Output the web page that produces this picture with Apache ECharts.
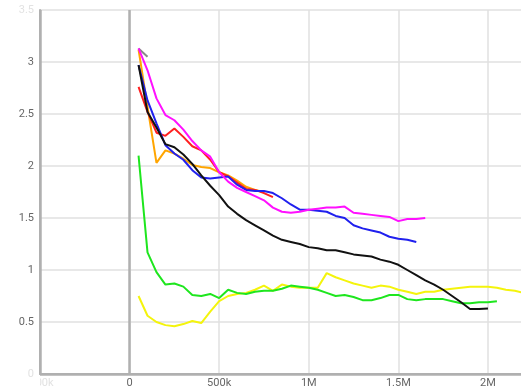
<!DOCTYPE html>
<html><head><meta charset="utf-8">
<script src="https://cdn.jsdelivr.net/npm/echarts@6/dist/echarts.min.js"></script>
<style>html,body{margin:0;padding:0;background:#fff}#c{width:521px;height:389px}</style>
</head><body><div id="c"></div>
<script>
// x positions are in steps of 50k, starting at 50k
const xStep = 50000;
const black = [2.97,2.52,2.37,2.21,2.18,2.11,2.02,1.91,1.81,1.72,1.61,1.54,1.48,1.43,1.38,1.33,1.29,1.27,1.25,1.22,1.21,1.19,1.19,1.17,1.15,1.14,1.13,1.10,1.08,1.05,1.00,0.95,0.90,0.86,0.81,0.75,0.69,0.625,0.625,0.63];
const magenta = [3.13,2.92,2.65,2.49,2.44,2.35,2.24,2.15,2.09,1.94,1.85,1.79,1.75,1.71,1.67,1.60,1.56,1.55,1.56,1.58,1.59,1.60,1.60,1.61,1.55,1.54,1.53,1.52,1.51,1.47,1.49,1.49,1.50];
const blue = [2.97,2.63,2.41,2.20,2.12,2.06,1.96,1.89,1.88,1.89,1.90,1.82,1.77,1.76,1.76,1.74,1.69,1.63,1.58,1.58,1.57,1.56,1.52,1.50,1.43,1.40,1.38,1.36,1.32,1.30,1.29,1.27];
const red = [2.76,2.52,2.32,2.29,2.36,2.28,2.19,2.15,2.06,1.94,1.90,1.84,1.78,1.77,1.74,1.70];
const orange = [3.12,2.57,2.03,2.15,2.12,2.07,2.01,1.99,1.98,1.94,1.91,1.86,1.80,1.77,1.75];
const gray = [3.13,3.05];
const green = [2.10,1.17,0.98,0.86,0.87,0.84,0.76,0.75,0.77,0.73,0.81,0.78,0.77,0.79,0.80,0.80,0.82,0.85,0.84,0.83,0.81,0.78,0.75,0.76,0.74,0.71,0.71,0.73,0.76,0.76,0.72,0.71,0.72,0.72,0.72,0.70,0.68,0.68,0.69,0.69,0.70];
const yellow = [0.75,0.56,0.50,0.47,0.46,0.48,0.51,0.49,0.60,0.70,0.75,0.77,0.78,0.81,0.85,0.80,0.86,0.84,0.83,0.83,0.83,0.97,0.93,0.90,0.87,0.85,0.83,0.85,0.84,0.81,0.79,0.77,0.79,0.79,0.81,0.82,0.83,0.84,0.84,0.84,0.83,0.81,0.80,0.78];
const xMin = -500000, xMax = 2190000;

function pts(arr){ return arr.map((v,i)=>[(i+1)*xStep, v]); }
function fmtX(v){ if(v===0) return '0'; if(Math.abs(v)>=1e6) return (v/1e6)+'M'; return (v/1000)+'k'; }

const chart = echarts.init(document.getElementById('c'), null, {renderer:'canvas'});
const mk = (name, data, color, extra) => Object.assign({
  name, type:'line', data: pts(data), showSymbol:false, symbol:'none',
  lineStyle:{color, width:2}, itemStyle:{color}, clip:true
}, extra||{});

chart.setOption({
  animation:false,
  textStyle:{fontFamily:'Roboto'},
  grid:{left:40, right:-1, top:10, bottom:15, outerBoundsMode:'none'},
  xAxis:{type:'value', min:xMin, max:xMax, interval:500000,
    axisLine:{show:true, onZero:false, lineStyle:{color:'#b0b0b0', width:2}},
    axisTick:{show:false},
    axisLabel:{margin:4, fontSize:11, formatter:fmtX, showMaxLabel:false,
      color:(v)=> (+v===xMin ? '#e2e2e2' : '#666')},
    splitLine:{show:true, lineStyle:{color:'#e0e0e0', width:1.5}}
  },
  yAxis:{type:'value', min:0, max:3.5, interval:0.5,
    axisLine:{show:true, onZero:false, lineStyle:{color:'#b0b0b0', width:2}},
    axisTick:{show:false},
    axisLabel:{margin:6, fontSize:11,
      color:(v)=> ((+v===0 || +v===3.5) ? '#e2e2e2' : '#666')},
    splitLine:{show:true, lineStyle:{color:'#e0e0e0', width:1.5}}
  },
  graphic:[{type:'rect', z:100, shape:{x:0,y:378,width:40,height:11}, style:{fill:'#fff'}}],
  series:[
    mk('yellow', yellow, '#f4f40c'),
    mk('green', green, '#1ee61e'),
    mk('gray', gray, '#888888'),
    mk('orange', orange, '#ffa500'),
    mk('red', red, '#ff2020'),
    mk('blue', blue, '#2020ee'),
    mk('magenta', magenta, '#ff10ff'),
    mk('black', black, '#111111', {clip:false, markLine:{silent:true, symbol:'none', label:{show:false},
      lineStyle:{color:'#b0b0b0', width:2.5, type:'solid'},
      data:[{xAxis:0},{xAxis:xMin},{yAxis:0}]}})
  ]
});
</script></body></html>
